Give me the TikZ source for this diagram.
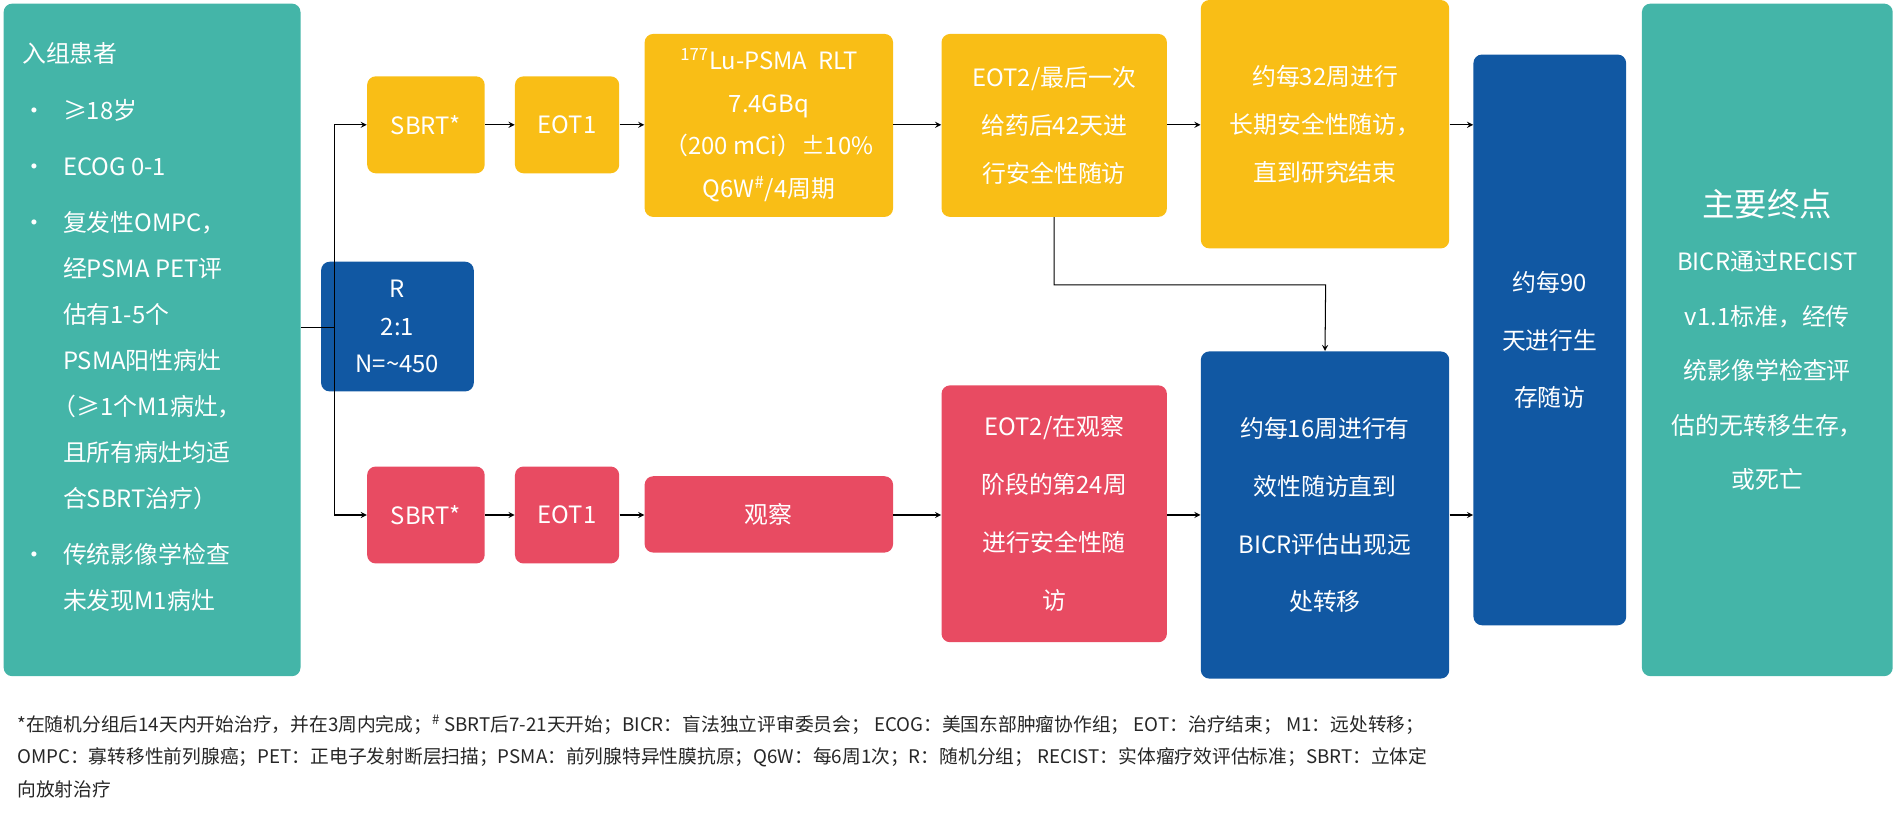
\documentclass[tikz,border=0pt]{standalone}
\usepackage{fontspec}
\setmainfont{Noto Sans CJK SC}
\usetikzlibrary{positioning}
\definecolor{tealc}{HTML}{44B5A8}
\definecolor{yellowc}{HTML}{F9BE16}
\definecolor{redc}{HTML}{E84B62}
\definecolor{bluec}{HTML}{1158A3}
\tikzset{x=0.025cm,y=0.025cm,
	sz/.style 2 args={minimum width=#1*0.025cm,minimum height=#2*0.025cm},
	box/.style={rounded corners=5pt,text=white,align=center,
		inner sep=0pt,font=\fontsize{14}{28}\selectfont},
	ybox/.style={box,fill=yellowc},
	rbox/.style={box,fill=redc},
	bbox/.style={box,fill=bluec},
	tbox/.style={box,fill=tealc},
	flow/.style={draw,->,>=stealth,semithick}
}
\begin{document}
\begin{tikzpicture}
	\useasboundingbox (0,0) rectangle (1568,-680);
	% enrolment and randomisation
	\node[tbox,sz={245}{555}] (enrol) at (125.5,-280.5) {};
	\node[anchor=north west,text=white,align=left,inner sep=0pt,font=\fontsize{14}{20}\selectfont] (enroltext) at (18,-32) {%
		\begin{tabular}{@{}l@{\hspace{10pt}}l@{}}
			\multicolumn{2}{@{}l}{入组患者}\\[13pt]
			• & ≥18岁\\[13pt]
			• & ECOG 0-1\\[13pt]
			• & 复发性OMPC，\\[7pt]
			  & 经PSMA PET评\\[7pt]
			  & 估有1-5个\\[7pt]
			  & PSMA阳性病灶\\[7pt]
			  & \hspace{-6pt}（≥1个M1病灶，\\[7pt]
			  & 且所有病灶均适\\[7pt]
			  & 合SBRT治疗）\\[13pt]
			• & 传统影像学检查\\[7pt]
			  & 未发现M1病灶
		\end{tabular}};
	\node[bbox,sz={126}{107},font=\fontsize{14}{22}\selectfont] (rand) at (328,-269.5) {R\\2:1\\N=\textasciitilde450};
	% experimental arm
	\node[ybox,sz={97}{80}] (sbrta) at (351.5,-103) {SBRT*};
	\node[ybox,sz={86}{80}] (eota) at (468,-103) {EOT1};
	\node[ybox,sz={205}{151},font=\fontsize{14}{25}\selectfont] (lu) at (634.5,-103.5) {\textsuperscript{177}Lu-PSMA\ \ RLT\\7.4GBq\\（200 mCi）±10\%\\Q6W\textsuperscript{\#}/4周期};
	\node[ybox,sz={186}{151}] (eotb) at (870,-103.5) {EOT2/最后一次\\给药后42天进\\行安全性随访};
	\node[ybox,sz={205}{205}] (lts) at (1093.5,-102.5) {约每32周进行\\长期安全性随访，\\直到研究结束};
	% observation arm
	\node[rbox,sz={97}{80}] (sbrtb) at (351.5,-425) {SBRT*};
	\node[rbox,sz={86}{80}] (eotc) at (468,-425) {EOT1};
	\node[rbox,sz={205}{63}] (obs) at (634.5,-424.5) {观察};
	\node[rbox,sz={186}{212},font=\fontsize{14}{34}\selectfont] (eotd) at (870,-424) {EOT2/在观察\\阶段的第24周\\进行安全性随\\访};
	\node[bbox,sz={205}{270},font=\fontsize{14}{34}\selectfont] (eff) at (1093.5,-425) {约每16周进行有\\效性随访直到\\BICR评估出现远\\处转移};
	% survival and endpoint
	\node[bbox,sz={126}{471},font=\fontsize{14}{34}\selectfont] (surv) at (1279,-280.5) {约每90\\天进行生\\存随访};
	\node[tbox,sz={207}{555},font=\fontsize{14}{32}\selectfont] (endp) at (1458.5,-280.5) {{\fontsize{19}{32}\selectfont 主要终点}\\BICR通过RECIST\\v1.1标准，经传\\统影像学检查评\\估的无转移生存，\\或死亡};
	\coordinate (split) at (276,-270);
	\coordinate (bend) at (1094,-235);
	% connectors
	\draw[semithick] (enrol.east |- split) -- (split);
	\draw[flow] (split) |- (sbrta);
	\draw[flow] (split) |- (sbrtb);
	\draw[flow] (sbrta) -- (eota);
	\draw[flow] (eota) -- (lu.west |- eota);
	\draw[flow] (lu.east |- eota) -- (eotb.west |- eota);
	\draw[flow] (eotb.east |- eota) -- (lts.west |- eota);
	\draw[flow] (lts.east |- eota) -- (surv.west |- eota);
	\draw[flow] (eotb.south) |- (bend) -- (eff.north);
	\draw[flow] (sbrtb) -- (eotc);
	\draw[flow] (eotc) -- (obs.west |- eotc);
	\draw[flow] (obs.east |- eotc) -- (eotd.west |- eotc);
	\draw[flow] (eotd.east |- eotc) -- (eff.west |- eotc);
	\draw[flow] (eff.east |- eotc) -- (surv.west |- eotc);
	% footnote
	\node[anchor=north west,align=left,inner sep=0pt,text=black!85,font=\fontsize{11}{19}\selectfont] (notes) at (14,-590) {*在随机分组后14天内开始治疗，并在3周内完成；\textsuperscript{\#} SBRT后7-21天开始；BICR：盲法独立评审委员会；\ ECOG：美国东部肿瘤协作组；\ EOT：治疗结束；\ M1：远处转移；\\OMPC：寡转移性前列腺癌；PET：正电子发射断层扫描；PSMA：前列腺特异性膜抗原；Q6W：每6周1次；R：随机分组；\ RECIST：实体瘤疗效评估标准；SBRT：立体定\\向放射治疗};
\end{tikzpicture}
\end{document}
